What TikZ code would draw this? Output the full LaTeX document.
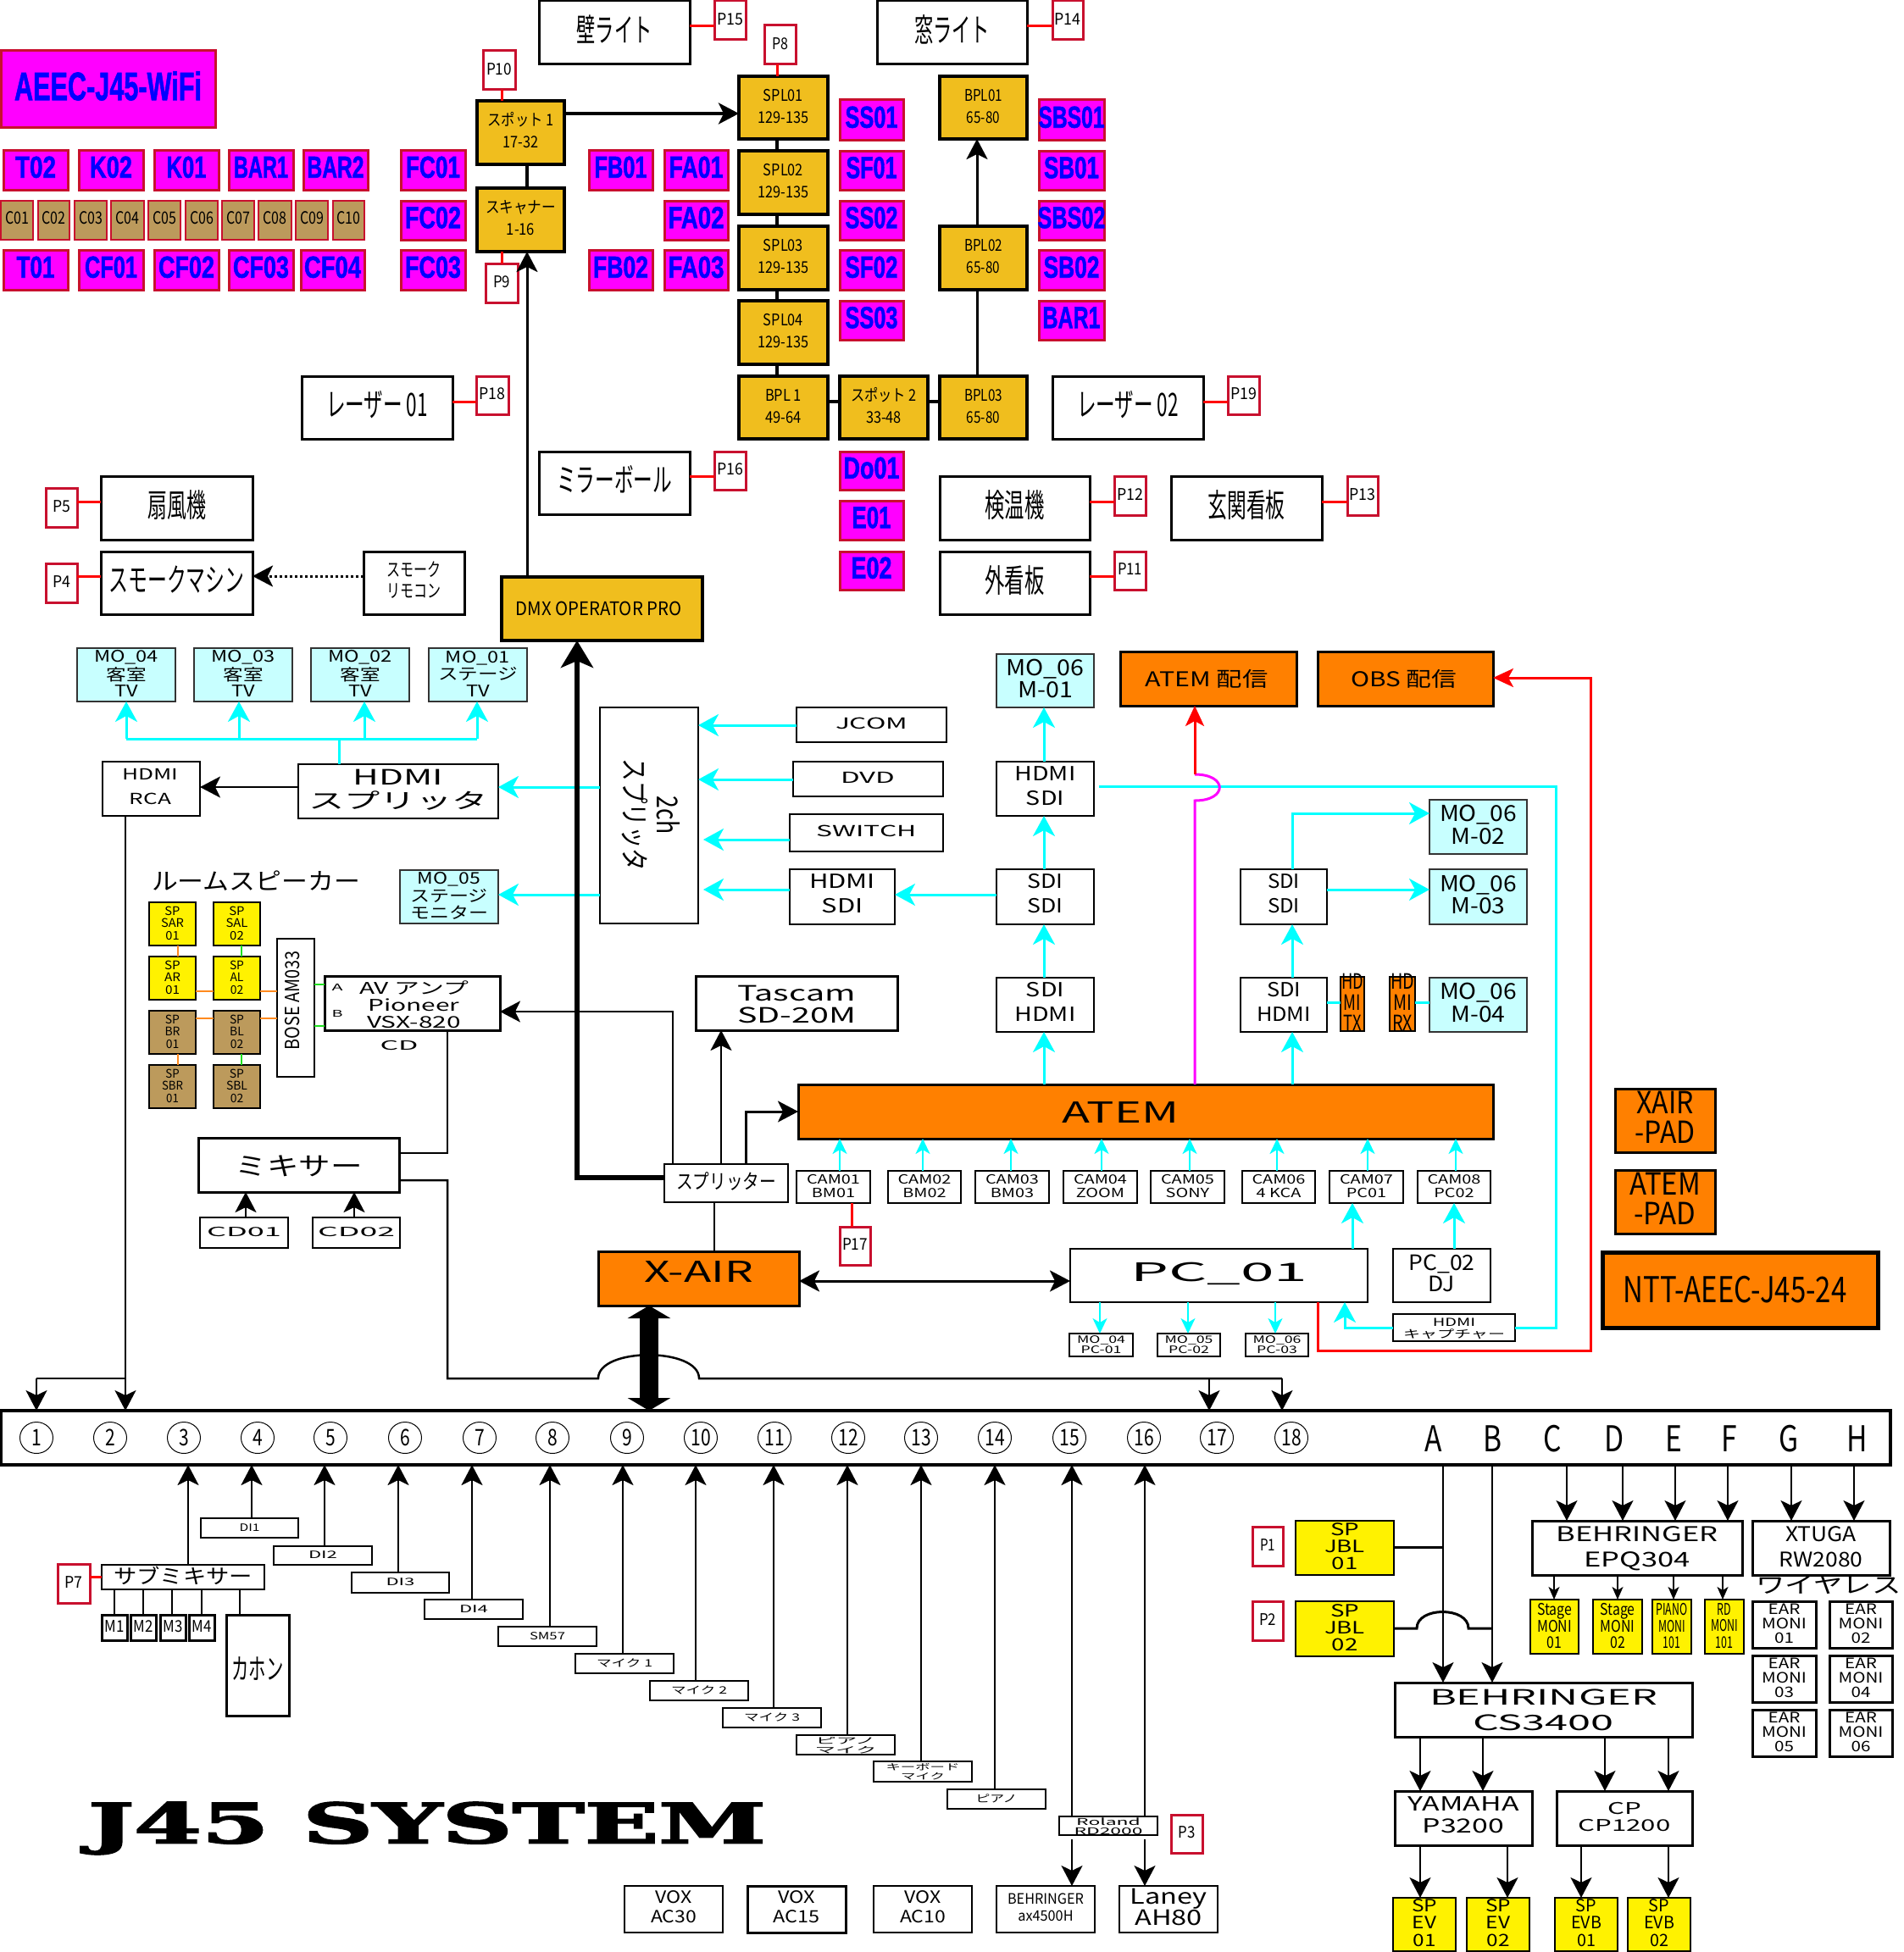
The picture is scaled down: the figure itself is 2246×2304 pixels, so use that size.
\documentclass[tikz,border=0pt]{standalone}
\usepackage{fontspec}
\usepackage{graphicx}
\usetikzlibrary{arrows.meta,shapes.geometric,calc}
\setmainfont{Noto Sans CJK JP}
\newfontfamily\labf[BoldFeatures={FakeBold=1.5}]{Liberation Sans}
\newfontfamily\stenc[FakeBold=2.5]{DejaVu Serif Bold}
\newsavebox\tb
\newcommand\T[4]{\sbox\tb{\fontsize{#2}{#3}\selectfont\begin{tabular}{@{}c@{}}#4\end{tabular}}%
\pgfmathsetmacro\tsc{#1/\the\wd\tb}\pgfmathsetmacro\tdn{.36*#2-.2*#3+2.5}%
\makebox[0pt]{\smash{\raisebox{-\tdn pt}{\scalebox{\tsc}[1]{\usebox\tb}}}}}
% shift text by dx, dy (dy down)
\newcommand\Sh[3]{\makebox[0pt][l]{\kern#1pt\smash{\raisebox{-#2pt}{#3}}}}
\newcommand\bx[7]{\node[base,#1,minimum width={#5-#3},minimum height={#6-#4}] (#2) at ({(#3+#5)/2},{(#4+#6)/2}) {#7};}
% magenta label: name x0 y0 x1 y1 width size text
\newcommand\Mg[7]{\bx{mag}{#1}{#2}{#3}{#4}{#5}{\T{#6}{36}{40}{\labf\bfseries #7}}}
\newcommand\Cc[5]{\bx{tan}{#1}{#2}{237}{#3}{283}{\T{28}{20}{24}{#4}}}
\newcommand\Pl[7]{\bx{pb}{#1}{#2}{#3}{#4}{#5}{\T{#6}{19}{22}{#7}}}
\newcommand\vc[4][]{\draw[#1] (#2,0 |- #3) -- (#2,0 |- #4);}
\newcommand\hc[4][]{\draw[#1] (#3 |- 0,#2) -- (#4 |- 0,#2);}
\tikzset{
 base/.style={rectangle,inner sep=0pt,outer sep=0pt,text=black},
 mag/.style={fill=magenta!100,draw=rd,line width=3,text=blue},
 tan/.style={fill=tanc,draw=rd,line width=2.5},
 pb/.style={fill=white,draw=rd,line width=3},
 gold/.style={fill=gold,draw=black,line width=3.5},
 wb/.style={fill=white,draw=black,line width=3},
 wm/.style={fill=white,draw=black,line width=2},
 wt/.style={fill=white,draw=black,line width=1.5},
 cy/.style={fill=lcy,draw=black!80,line width=1.5},
 ora/.style={fill=orc,draw=black,line width=3},
 oranb/.style={fill=orc,draw=black,line width=1.5},
 yl/.style={fill=yellow,draw=black,line width=2.5},
 tn/.style={fill=tanc,draw=black,line width=2.5},
 cn/.style={line width=2.5,draw=black},
 ck/.style={line width=3.5,draw=black},
 ar/.style={-{Stealth[length=24,width=25,inset=6]}},
 ars/.style={-{Stealth[length=15,width=13,inset=4]}},
 cya/.style={line width=3,draw=cyan!100,-{Stealth[length=24,width=26,inset=7]}},
 cyn/.style={line width=3,draw=cyan!100},
 cys/.style={line width=2,draw=cyan!100,-{Stealth[length=18,width=17,inset=5]}},
 plk/.style={line width=3,draw=red},
 olk/.style={line width=2.5,draw=orange},
 glk/.style={line width=2.5,draw=green},
}
\definecolor{rd}{HTML}{C8102E}
\definecolor{tanc}{HTML}{BC9A5C}
\definecolor{gold}{HTML}{F0BE1E}
\definecolor{lcy}{HTML}{C8FFFF}
\definecolor{orc}{HTML}{FF8000}
\definecolor{cyan}{HTML}{00FFFF}
\definecolor{magenta}{HTML}{FF00FF}
\definecolor{orange}{HTML}{FF8A1E}
\definecolor{green}{HTML}{20E020}
\begin{document}
\begin{tikzpicture}[x=1pt,y=-1pt]
\useasboundingbox (0,0) rectangle (2246,2304);
\fill[white] (0,0) rectangle (2246,2304);
% ---- magenta labels
\bx{mag}{wifi}{1}{60}{254}{150}{\T{221}{47}{52}{\labf\bfseries AEEC-J45-WiFi}}
\Mg{t02}{4}{177}{80}{224}{48}{T02}
\Mg{k02}{93}{177}{169}{224}{50}{K02}
\Mg{k01}{182}{177}{258}{224}{47}{K01}
\Mg{bara}{270}{177}{346}{224}{64}{BAR1}
\Mg{barb}{358}{177}{434}{224}{67}{BAR2}
\Mg{t01}{4}{295}{80}{342}{45}{T01}
\Mg{cf01}{93}{295}{169}{342}{62}{CF01}
\Mg{cf02}{182}{295}{258}{342}{66}{CF02}
\Mg{cf03}{270}{295}{346}{342}{66}{CF03}
\Mg{cf04}{355}{295}{430}{342}{67}{CF04}
\Mg{fc01}{473}{177}{549}{224}{64}{FC01}
\Mg{fc02}{473}{237}{549}{283}{66}{FC02}
\Mg{fc03}{473}{295}{549}{342}{66}{FC03}
\Mg{fb01}{695}{177}{770}{224}{62}{FB01}
\Mg{fa01}{784}{177}{859}{224}{64}{FA01}
\Mg{fa02}{784}{237}{859}{283}{66}{FA02}
\Mg{fb02}{695}{295}{770}{342}{65}{FB02}
\Mg{fa03}{784}{295}{859}{342}{66}{FA03}
\Mg{ss01}{991}{118}{1066}{165}{62}{SS01}
\Mg{sf01}{991}{178}{1066}{224}{60}{SF01}
\Mg{ss02}{991}{237}{1066}{283}{62}{SS02}
\Mg{sf02}{991}{295}{1066}{342}{62}{SF02}
\Mg{ss03}{991}{355}{1066}{401}{62}{SS03}
\Mg{sbs01}{1226}{118}{1303}{165}{78}{SBS01}
\Mg{sb01}{1226}{178}{1303}{224}{65}{SB01}
\Mg{sbs02}{1226}{237}{1303}{283}{80}{SBS02}
\Mg{sb02}{1226}{295}{1303}{342}{66}{SB02}
\Mg{barc}{1226}{355}{1303}{401}{68}{BAR1}
\Mg{do01}{991}{533}{1066}{578}{66}{Do01}
\Mg{e01}{991}{591}{1066}{637}{46}{E01}
\Mg{e02}{991}{651}{1066}{696}{48}{E02}
\Cc{c01}{1}{39}{C01}{}
\Cc{c02}{45}{82}{C02}{}
\Cc{c03}{88}{126}{C03}{}
\Cc{c04}{131}{170}{C04}{}
\Cc{c05}{175}{213}{C05}{}
\Cc{c06}{219}{257}{C06}{}
\Cc{c07}{262}{300}{C07}{}
\Cc{c08}{305}{344}{C08}{}
\Cc{c09}{349}{387}{C09}{}
\Cc{c10}{393}{430}{C10}{}
% ---- gold boxes
\bx{gold}{spot1}{563}{119}{666}{194}{\T{78}{19}{26}{スポット 1\\17-32}}
\bx{gold}{scan}{563}{222}{666}{297}{\T{83}{19}{26}{スキャナー\\1-16}}
\bx{gold}{spla}{872}{90}{977}{164}{\T{60}{19}{26}{SPL01\\129-135}}
\bx{gold}{splb}{872}{178}{977}{253}{\T{60}{19}{26}{SPL02\\129-135}}
\bx{gold}{splc}{872}{267}{977}{342}{\T{60}{19}{26}{SPL03\\129-135}}
\bx{gold}{spld}{872}{355}{977}{430}{\T{60}{19}{26}{SPL04\\129-135}}
\bx{gold}{bpl1}{872}{444}{977}{518}{\T{43}{19}{26}{BPL 1\\49-64}}
\bx{gold}{spot2}{991}{444}{1095}{518}{\T{78}{19}{26}{スポット 2\\33-48}}
\bx{gold}{bpla}{1109}{90}{1212}{164}{\T{45}{19}{26}{BPL01\\65-80}}
\bx{gold}{bplb}{1109}{267}{1212}{342}{\T{45}{19}{26}{BPL02\\65-80}}
\bx{gold}{bplc}{1109}{444}{1212}{518}{\T{45}{19}{26}{BPL03\\65-80}}
\bx{gold}{dmx}{592}{681}{829}{756}{\Sh{-4}{3}{\T{196}{22}{26}{DMX OPERATOR PRO}}}
% ---- white device boxes
\bx{wb}{wall}{636}{1}{814}{76}{\T{89}{38}{42}{壁ライト}}
\bx{wb}{win}{1035}{1}{1212}{76}{\T{89}{38}{42}{窓ライト}}
\bx{wb}{las1}{356}{444}{534}{518}{\T{120}{38}{42}{レーザー 01}}
\bx{wb}{las2}{1242}{444}{1420}{518}{\T{120}{38}{42}{レーザー 02}}
\bx{wb}{mirror}{636}{533}{814}{607}{\T{136}{38}{42}{ミラーボール}}
\bx{wb}{fan}{119}{562}{298}{637}{\T{69}{38}{42}{扇風機}}
\bx{wb}{smoke}{119}{651}{298}{725}{\T{160}{38}{42}{スモークマシン}}
\bx{wb}{remote}{429}{651}{548}{725}{\T{64}{22}{25}{スモーク\\リモコン}}
\bx{wb}{temp}{1109}{562}{1286}{637}{\T{70}{38}{42}{検温機}}
\bx{wb}{sign}{1382}{562}{1560}{637}{\T{91}{38}{42}{玄関看板}}
\bx{wb}{outs}{1109}{651}{1286}{725}{\T{70}{38}{42}{外看板}}
% ---- P tags
\Pl{p10}{570}{60}{608}{106}{30}{P10}
\Pl{p9}{573}{311}{611}{357}{20}{P9}
\Pl{p15}{843}{1}{880}{47}{31}{P15}
\Pl{p8}{902}{30}{939}{76}{19}{P8}
\Pl{p14}{1242}{1}{1278}{47}{31}{P14}
\Pl{p18}{562}{444}{600}{489}{31}{P18}
\Pl{p19}{1449}{444}{1486}{489}{31}{P19}
\Pl{p16}{843}{533}{880}{578}{31}{P16}
\Pl{p5}{54}{576}{91}{622}{21}{P5}
\Pl{p4}{54}{665}{91}{711}{21}{P4}
\Pl{p12}{1315}{562}{1352}{608}{31}{P12}
\Pl{p13}{1590}{562}{1626}{608}{31}{P13}
\Pl{p11}{1315}{651}{1352}{696}{29}{P11}
\Pl{p7}{68}{1846}{106}{1892}{21}{P7}
\Pl{p17}{991}{1448}{1027}{1493}{30}{P17}
\Pl{p1}{1478}{1802}{1514}{1848}{18}{P1}
\Pl{p2}{1478}{1890}{1514}{1936}{20}{P2}
\Pl{p3}{1382}{2142}{1419}{2187}{20}{P3}
% ---- monitors
\bx{cy}{mo4}{91}{765}{207}{828}{\T{76}{19}{18}{MO\_04\\客室\\TV}}
\bx{cy}{mo3}{229}{765}{345}{828}{\T{76}{19}{18}{MO\_03\\客室\\TV}}
\bx{cy}{mo2}{367}{765}{483}{828}{\T{76}{19}{18}{MO\_02\\客室\\TV}}
\bx{cy}{mo1}{506}{765}{622}{828}{\T{94}{19}{18}{MO\_01\\ステージ\\TV}}
\bx{cy}{mo5}{472}{1027}{588}{1090}{\T{92}{19}{18}{MO\_05\\ステージ\\モニター}}
\bx{cy}{m1}{1176}{772}{1291}{835}{\T{92}{26}{24}{MO\_06\\M-01}}
\bx{cy}{m2}{1687}{944}{1802}{1008}{\T{91}{26}{24}{MO\_06\\M-02}}
\bx{cy}{m3}{1687}{1026}{1802}{1091}{\T{91}{26}{24}{MO\_06\\M-03}}
\bx{cy}{m4}{1687}{1154}{1802}{1218}{\T{91}{26}{24}{MO\_06\\M-04}}
% ---- video chain
\bx{wm}{rca}{121}{899}{236}{963}{\Sh{-1}{-1}{\T{66}{18}{29}{HDMI\\RCA}}}
\bx{wm}{hsp}{352}{902}{588}{966}{\T{211}{25}{23}{HDMI\\スプリッタ}}
\bx{wm}{twoch}{708}{835}{824}{1090}{}
\node[rotate=-90] (twochl) at (766,962) {\T{133}{34}{35}{2ch\\スプリッタ}};
\bx{wm}{jcom}{940}{835}{1117}{876}{\T{85}{18}{22}{JCOM}}
\bx{wm}{dvd}{936}{899}{1113}{940}{\T{64}{18}{22}{DVD}}
\bx{wm}{swi}{932}{961}{1113}{1005}{\T{118}{18}{22}{SWITCH}}
\bx{wm}{hs1}{932}{1026}{1056}{1091}{\T{78}{23}{29}{HDMI\\SDI}}
\bx{wm}{ss}{1176}{1026}{1291}{1091}{\T{42}{23}{29}{SDI\\SDI}}
\bx{wm}{hs2}{1176}{899}{1291}{963}{\T{72}{23}{29}{HDMI\\SDI}}
\bx{wm}{sh}{1176}{1154}{1291}{1218}{\T{72}{23}{29}{SDI\\HDMI}}
\bx{wm}{ssr}{1464}{1026}{1566}{1091}{\T{38}{23}{29}{SDI\\SDI}}
\bx{wm}{shr}{1464}{1154}{1566}{1218}{\T{64}{23}{29}{SDI\\HDMI}}
\bx{oranb}{hdtx}{1582}{1153}{1610}{1217}{\T{26}{25}{21}{HD\\MI\\TX}}
\bx{oranb}{hdrx}{1640}{1153}{1670}{1217}{\T{28}{25}{21}{HD\\MI\\RX}}
\bx{ora}{atemh}{1322}{769}{1530}{833}{\Sh{-2}{4}{\T{145}{24}{28}{ATEM 配信}}}
\bx{ora}{obs}{1555}{769}{1762}{833}{\Sh{-2}{4}{\T{125}{24}{28}{OBS 配信}}}
\bx{ora}{atem}{942}{1280}{1762}{1344}{\Sh{-30}{5}{\T{138}{34}{38}{ATEM}}}
\bx{ora}{xair}{706}{1477}{943}{1541}{\Sh{0}{-4}{\T{129}{34}{38}{X-AIR}}}
\bx{ora}{xpad}{1906}{1285}{2024}{1360}{\Sh{0}{-3}{\T{71}{36}{28}{XAIR\\-PAD}}}
\bx{ora}{apad}{1906}{1381}{2024}{1456}{\Sh{0}{-3}{\T{84}{36}{28}{ATEM\\-PAD}}}
\bx{ora,line width=5}{ntt}{1891}{1478}{2216}{1567}{\Sh{-6}{4}{\T{264}{42}{46}{NTT-AEEC-J45-24}}}
\bx{wb}{tasc}{821}{1152}{1059}{1216}{\Sh{0}{5}{\T{140}{25}{25}{Tascam\\SD-20M}}}
\bx{wm}{spl}{784}{1374}{930}{1419}{\Sh{0}{2}{\T{118}{24}{28}{スプリッター}}}
\bx{wb}{mix}{234}{1343}{471}{1407}{\Sh{0}{5}{\T{150}{30}{34}{ミキサー}}}
\bx{wt}{cda}{236}{1437}{340}{1473}{\T{88}{15}{18}{CD01}}
\bx{wt}{cdb}{369}{1437}{472}{1473}{\T{91}{15}{18}{CD02}}
\bx{wm}{pc1}{1263}{1474}{1614}{1537}{\T{209}{30}{34}{PC\_01}}
\bx{wt}{pc2}{1644}{1474}{1759}{1537}{\T{78}{25}{22}{PC\_02\\DJ}}
\bx{wm}{cap}{1644}{1551}{1788}{1583}{\T{120}{13}{11}{HDMI\\キャプチャー}}
\bx{wm}{ma}{1262}{1574}{1337}{1601}{\T{57}{12}{11.5}{MO\_04\\PC-01}}
\bx{wm}{mb}{1366}{1574}{1440}{1601}{\T{57}{12}{11.5}{MO\_05\\PC-02}}
\bx{wm}{mc}{1470}{1574}{1544}{1601}{\T{57}{12}{11.5}{MO\_06\\PC-03}}
\bx{wm}{cam1}{940}{1382}{1027}{1420}{\T{63}{15}{16}{CAM01\\BM01}}
\bx{wm}{cam2}{1048}{1382}{1134}{1420}{\T{63}{15}{16}{CAM02\\BM02}}
\bx{wm}{cam3}{1151}{1382}{1238}{1420}{\T{63}{15}{16}{CAM03\\BM03}}
\bx{wm}{cam4}{1255}{1382}{1342}{1420}{\T{63}{15}{16}{CAM04\\ZOOM}}
\bx{wm}{cam5}{1358}{1382}{1445}{1420}{\T{63}{15}{16}{CAM05\\SONY}}
\bx{wm}{cam6}{1466}{1382}{1552}{1420}{\T{63}{15}{16}{CAM06\\4 KCA}}
\bx{wm}{cam7}{1569}{1382}{1656}{1420}{\T{63}{15}{16}{CAM07\\PC01}}
\bx{wm}{cam8}{1673}{1382}{1759}{1420}{\T{63}{15}{16}{CAM08\\PC02}}
% ---- room speakers
\node[base] (roomt) at (302,1044) {\T{246}{28}{32}{ルームスピーカー}};
\bx{yl}{sar}{176}{1065}{231}{1116}{\T{27}{14}{14}{SP\\SAR\\01}}
\bx{yl}{sal}{252}{1065}{307}{1116}{\T{26}{14}{14}{SP\\SAL\\02}}
\bx{yl}{ar}{176}{1129}{231}{1180}{\T{19}{14}{14}{SP\\AR\\01}}
\bx{yl}{al}{252}{1129}{307}{1180}{\T{17}{14}{14}{SP\\AL\\02}}
\bx{tn}{br}{176}{1193}{231}{1244}{\T{18}{14}{14}{SP\\BR\\01}}
\bx{tn}{bl}{252}{1193}{307}{1244}{\T{17}{14}{14}{SP\\BL\\02}}
\bx{tn}{sbr}{176}{1257}{231}{1308}{\T{25}{14}{14}{SP\\SBR\\01}}
\bx{tn}{sbl}{252}{1257}{307}{1308}{\T{25}{14}{14}{SP\\SBL\\02}}
\bx{wm}{bose}{327}{1108}{371}{1271}{}
\node[rotate=90] (bosel) at (349,1181) {\T{117}{23}{26}{BOSE AM033}};
\bx{wb}{av}{383}{1152}{590}{1216}{\Sh{2}{3}{\T{129}{19}{19}{AV アンプ\\Pioneer\\VSX-820}}}
\node[base] (ampa) at (398,1166) {\T{13}{11}{13}{A}};
\node[base] (ampb) at (398,1197) {\T{13}{11}{13}{B}};
\node[base] (cdl) at (471,1235) {\T{45}{15}{18}{CD}};
% ---- patch bay
\bx{ck,fill=white,line width=4.5}{bus}{1}{1665}{2231}{1729}{}
\foreach \n/\x in {1/43,2/130,3/217,4/304,5/390,6/478,7/566,8/652,9/740,10/827,11/914,12/1001,13/1087,14/1174,15/1262,16/1350,17/1436,18/1524}{
 \node[ellipse,draw=black,line width=1,minimum width=39,minimum height=37,inner sep=0pt] (ch\n) at (\x,1697) {\raisebox{-1pt}{\scalebox{.78}[1]{\fontsize{27}{30}\selectfont\n}}};
}
\foreach \n/\x in {A/1692,B/1762,C/1832,D/1905,E/1975,F/2041,G/2111,H/2192}{
 \node[base] (ch\n) at (\x,1698) {\scalebox{.8}[1]{\fontsize{42}{46}\selectfont\n}};
}
% ---- inputs
\bx{wm}{di1}{237}{1792}{352}{1815}{\T{24}{12}{14}{DI1}}
\bx{wm}{di2}{323}{1825}{439}{1847}{\T{34}{12}{14}{DI2}}
\bx{wm}{di3}{415}{1856}{530}{1880}{\T{34}{12}{14}{DI3}}
\bx{wm}{di4}{501}{1888}{617}{1911}{\T{34}{12}{14}{DI4}}
\bx{wm}{sm}{588}{1920}{704}{1943}{\T{42}{12}{14}{SM57}}
\bx{wm}{mica}{679}{1952}{795}{1975}{\T{66}{12}{14}{マイク 1}}
\bx{wm}{micb}{767}{1984}{883}{2007}{\T{66}{12}{14}{マイク 2}}
\bx{wm}{micc}{853}{2016}{969}{2039}{\T{66}{12}{14}{マイク 3}}
\bx{wm}{pmic}{940}{2048}{1056}{2071}{\T{73}{10}{9.5}{ピアノ\\マイク}}
\bx{wm}{kmic}{1031}{2079}{1147}{2103}{\T{87}{10}{9.5}{キーボード\\マイク}}
\bx{wm}{pia}{1118}{2112}{1234}{2135}{\T{49}{12}{14}{ピアノ}}
\bx{wm}{rol}{1250}{2144}{1366}{2166}{\T{81}{11}{9.5}{Roland\\RD2000}}
\bx{wm}{sub}{120}{1847}{312}{1876}{\Sh{0}{3}{\T{164}{24}{28}{サブミキサー}}}
\bx{wb}{ma1}{120}{1906}{150}{1936}{\T{23}{19}{22}{M1}}
\bx{wb}{ma2}{154}{1906}{184}{1936}{\T{23}{19}{22}{M2}}
\bx{wb}{ma3}{189}{1906}{219}{1936}{\T{23}{19}{22}{M3}}
\bx{wb}{ma4}{223}{1906}{253}{1936}{\T{23}{19}{22}{M4}}
\bx{wb}{caj}{267}{1906}{341}{2025}{\Sh{0}{8}{\T{61}{34}{38}{カホン}}}
\bx{wm}{ac30}{737}{2226}{853}{2281}{\T{54}{20}{23}{VOX\\AC30}}
\bx{wb}{ac15}{882}{2226}{998}{2281}{\T{55}{20}{23}{VOX\\AC15}}
\bx{wm}{ac10}{1031}{2226}{1147}{2281}{\T{54}{20}{23}{VOX\\AC10}}
\bx{wm}{ax}{1176}{2226}{1292}{2281}{\T{90}{17}{20}{BEHRINGER\\ax4500H}}
\bx{wm}{lan}{1321}{2226}{1437}{2281}{\T{91}{25}{22}{Laney\\AH80}}
\node[base] (title) at (504,2158) {\resizebox*{800pt}{62pt}{\fontsize{75}{80}\stenc J45 SYSTEM}};
% ---- outputs
\bx{yl}{jbla}{1529}{1795}{1645}{1859}{\T{48}{20}{18}{SP\\JBL\\01}}
\bx{yl}{jblb}{1529}{1890}{1645}{1955}{\T{48}{20}{18}{SP\\JBL\\02}}
\bx{wb}{epq}{1808}{1795}{2056}{1859}{\Sh{0}{3}{\T{191}{24}{30}{BEHRINGER\\EPQ304}}}
\bx{wb}{xtu}{2068}{1795}{2230}{1859}{\Sh{0}{3}{\T{99}{24}{30}{XTUGA\\RW2080}}}
\bx{yl,line width=1.5}{sta}{1806}{1888}{1863}{1952}{\T{41}{19}{18}{Stage\\MONI\\01}}
\bx{yl,line width=1.5}{stb}{1880}{1888}{1938}{1952}{\T{41}{19}{18}{Stage\\MONI\\02}}
\bx{yl,line width=1.5}{pmo}{1950}{1888}{1996}{1952}{\T{37}{19}{18}{PIANO\\MONI\\101}}
\bx{yl,line width=1.5}{rdm}{2012}{1888}{2058}{1952}{\T{32}{19}{18}{RD\\MONI\\101}}
\node[base] (wire) at (2158,1875) {\T{171}{26}{30}{ワイヤレス}};
\bx{wb}{eaa}{2068}{1890}{2143}{1945}{\T{53}{17}{15.5}{EAR\\MONI\\01}}
\bx{wb}{eab}{2159}{1890}{2233}{1945}{\T{53}{17}{15.5}{EAR\\MONI\\02}}
\bx{wb}{eac}{2068}{1954}{2143}{2009}{\T{53}{17}{15.5}{EAR\\MONI\\03}}
\bx{wb}{ead}{2159}{1954}{2233}{2009}{\T{53}{17}{15.5}{EAR\\MONI\\04}}
\bx{wb}{eae}{2068}{2018}{2143}{2073}{\T{53}{17}{15.5}{EAR\\MONI\\05}}
\bx{wb}{eaf}{2159}{2018}{2233}{2073}{\T{53}{17}{15.5}{EAR\\MONI\\06}}
\bx{wb}{cs}{1646}{1986}{1997}{2050}{\Sh{0}{4}{\T{269}{25}{30}{BEHRINGER\\CS3400}}}
\bx{wb}{yam}{1646}{2114}{1808}{2178}{\T{131}{23}{26}{YAMAHA\\P3200}}
\bx{wb}{cp}{1837}{2114}{1997}{2178}{\T{109}{19}{20}{CP\\CP1200}}
\bx{yl}{eva}{1644}{2240}{1718}{2303}{\T{30}{20}{19}{SP\\EV\\01}}
\bx{yl}{evb}{1731}{2240}{1805}{2303}{\T{30}{20}{19}{SP\\EV\\02}}
\bx{yl}{evc}{1835}{2240}{1909}{2303}{\T{36}{20}{19}{SP\\EVB\\01}}
\bx{yl}{evd}{1921}{2240}{1995}{2303}{\T{36}{20}{19}{SP\\EVB\\02}}
% ==== connectors: P tags
\vc[plk]{592}{p10.south}{spot1.north}
\vc[plk]{592}{scan.south}{p9.north}
\hc[plk]{31}{wall.east}{p15.west}
\vc[plk]{917}{p8.south}{spla.north}
\hc[plk]{31}{win.east}{p14.west}
\hc[plk]{474}{las1.east}{p18.west}
\hc[plk]{474}{las2.east}{p19.west}
\hc[plk]{562}{mirror.east}{p16.west}
\hc[plk]{592}{p5.east}{fan.west}
\hc[plk]{680}{p4.east}{smoke.west}
\hc[plk]{592}{temp.east}{p12.west}
\hc[plk]{592}{sign.east}{p13.west}
\hc[plk]{680}{outs.east}{p11.west}
\hc[plk]{1861}{p7.east}{sub.west}
\vc[plk]{1005}{cam1.south}{p17.north}
% ==== lighting
\hc[ck,ar]{134}{spot1.east}{spla.west}
\vc[ck]{622}{spot1.south}{scan.north}
\vc[cn,line width=3,ar]{622}{dmx.north}{scan.south}
\vc[ck]{917}{spla.south}{splb.north}
\vc[ck]{917}{splb.south}{splc.north}
\vc[ck]{917}{splc.south}{spld.north}
\vc[ck]{917}{spld.south}{bpl1.north}
\hc[ck,line width=4.5]{474}{bpl1.east}{spot2.west}
\hc[ck,line width=4.5]{474}{spot2.east}{bplc.west}
\vc[cn,line width=3]{1153}{bplc.north}{bplb.south}
\vc[cn,line width=3,ar]{1153}{bplb.north}{bpla.south}
\hc[cn,line width=3,dotted,line cap=butt,dash pattern=on 3pt off 3pt,ar]{680}{remote.west}{smoke.east}
% ==== monitors left
\draw[cyn] (149,872) coordinate (busl) -- (563,872) coordinate (busr);
\vc[cyn]{400}{hsp.north}{busl}
\vc[cya]{149}{busl}{mo4.south}
\vc[cya]{282}{busl}{mo3.south}
\vc[cya]{430}{busl}{mo2.south}
\vc[cya]{563}{busl}{mo1.south}
\hc[cn,ar]{929}{hsp.west}{rca.east}
\hc[cya]{929}{twoch.west}{hsp.east}
\hc[cya]{1056}{twoch.west}{mo5.east}
\hc[cya]{856}{jcom.west}{twoch.east}
\hc[cya]{920}{dvd.west}{twoch.east}
\draw[cya] (swi.west |- 0,991) -- (830,991);
\draw[cya] (hs1.west |- 0,1050) -- (830,1050);
\hc[cya]{1056}{ss.west}{hs1.east}
\vc[cya]{1232}{atem.north}{sh.south}
\vc[cya]{1232}{sh.north}{ss.south}
\vc[cya]{1232}{ss.north}{hs2.south}
\vc[cya]{1232}{hs2.north}{m1.south}
\vc[cya]{1525}{atem.north}{shr.south}
\vc[cya]{1525}{shr.north}{ssr.south}
\draw[cya] (1525,0 |- ssr.north) -- (1525,960) -- (m2.west |- 0,960);
\hc[cya]{1050}{ssr.east}{m3.west}
\hc[cyn]{1183}{shr.east}{hdtx.west}
\hc[cyn]{1183}{hdrx.east}{m4.west}
% long cyan and capture
\draw[cyn] (1297,928) -- (1836,928) -- (1836,1567) -- (cap.east |- 0,1567);
\draw[cya] (cap.west |- 0,1567) -- (1587,1567) -- (1587,0 |- pc1.south);
% ATEM stream, magenta jump
\draw[line width=3,draw=magenta] (1410,0 |- atem.north) -- (1410,945) .. controls (1449,945) and (1449,914) .. (1410,914);
\draw[line width=3,draw=red,-{Stealth[length=24,width=22,inset=6]}] (1410,914) -- (1410,0 |- atemh.south);
\draw[line width=3,draw=red,-{Stealth[length=24,width=22,inset=6]}] (1555,0 |- pc1.south) -- (1555,1594) -- (1877,1594) -- (1877,800) -- (obs.east |- 0,800);
% cams
\vc[cys]{991}{cam1.north}{atem.south}
\vc[cys]{1089}{cam2.north}{atem.south}
\vc[cys]{1193}{cam3.north}{atem.south}
\vc[cys]{1300}{cam4.north}{atem.south}
\vc[cys]{1404}{cam5.north}{atem.south}
\vc[cys]{1507}{cam6.north}{atem.south}
\vc[cys]{1614}{cam7.north}{atem.south}
\vc[cys]{1718}{cam8.north}{atem.south}
\vc[cya]{1596}{pc1.north}{cam7.south}
\vc[cya]{1716}{pc2.north}{cam8.south}
\vc[cys]{1298}{pc1.south}{ma.north}
\vc[cys]{1402}{pc1.south}{mb.north}
\vc[cys]{1505}{pc1.south}{mc.north}
% ==== audio
\draw[cn,line width=3,{Stealth[length=24,width=25,inset=6]}-{Stealth[length=24,width=25,inset=6]}] (xair.east |- 0,1512) -- (pc1.west |- 0,1512);
\draw[line width=6,-{Stealth[length=32,width=38,inset=8]}] (spl.west |- 0,1390) -- (681,1390) -- (681,0 |- dmx.south);
\draw[cn,ar] (794,0 |- spl.north) -- (794,1194) -- (av.east |- 0,1194);
\vc[cn,ar]{851}{spl.north}{tasc.south}
\draw[cn,line width=3,ar] (880,0 |- spl.north) -- (880,1312) -- (atem.west |- 0,1312);
\vc[cn]{843}{spl.south}{xair.north}
\vc[cn,ar]{290}{cda.north}{mix.south}
\vc[cn,ar]{418}{cdb.north}{mix.south}
\draw[cn] (528,0 |- av.south) -- (528,1361) -- (mix.east |- 0,1361);
\draw[cn] (mix.east |- 0,1393) -- (528,1393) -- (528,1627) -- (706,1627) .. controls (706,1590) and (825,1590) .. (825,1627) -- (1513,1627) coordinate (wend);
\vc[cn,ar]{1427}{wend}{bus.north}
\vc[cn,ar]{1513}{wend}{bus.north}
\vc[cn,ar]{148}{rca.south}{bus.north}
\draw[cn] (43,1627) coordinate (wl) -- (148,1627);
\vc[cn,ar]{43}{wl}{bus.north}
\draw[line width=22,{Triangle[length=15,width=50]}-{Triangle[length=15,width=50]}] (766,0 |- xair.south) -- (766,0 |- bus.north);
\hc[olk]{1170}{ar.east}{al.west}
\hc[olk]{1170}{al.east}{bose.west}
\hc[olk]{1202}{br.east}{bl.west}
\hc[olk]{1202}{bl.east}{bose.west}
\vc[olk]{210}{sar.south}{ar.north}
\vc[olk]{210}{br.south}{sbr.north}
\vc[glk]{285}{sal.south}{al.north}
\vc[glk]{285}{bl.south}{sbl.north}
\hc[glk]{1162}{bose.east}{av.west}
\hc[glk]{1211}{bose.east}{av.west}
% inputs to bus
\vc[cn,ar]{222}{sub.north}{bus.south}
\vc[cn,ar]{297}{di1.north}{bus.south}
\vc[cn,ar]{383}{di2.north}{bus.south}
\vc[cn,ar]{470}{di3.north}{bus.south}
\vc[cn,ar]{557}{di4.north}{bus.south}
\vc[cn,ar]{649}{sm.north}{bus.south}
\vc[cn,ar]{735}{mica.north}{bus.south}
\vc[cn,ar]{821}{micb.north}{bus.south}
\vc[cn,ar]{913}{micc.north}{bus.south}
\vc[cn,ar]{1000}{pmic.north}{bus.south}
\vc[cn,ar]{1087}{kmic.north}{bus.south}
\vc[cn,ar]{1174}{pia.north}{bus.south}
\vc[cn,ar]{1265}{rol.north}{bus.south}
\vc[cn,ar]{1351}{rol.north}{bus.south}
\vc[cn,ar,shorten <=5]{1265}{rol.south}{ax.north}
\vc[cn,ar,shorten <=5]{1351}{rol.south}{lan.north}
\vc[cn]{135}{sub.south}{ma1.north}
\vc[cn]{169}{sub.south}{ma2.north}
\vc[cn]{203}{sub.south}{ma3.north}
\vc[cn]{238}{sub.south}{ma4.north}
\vc[cn]{283}{sub.south}{caj.north}
% outputs
\vc[cn,ar]{1703}{bus.south}{cs.north}
\vc[cn,ar]{1761}{bus.south}{cs.north}
\draw[cn,line width=3] (jbla.east |- 0,1826) -- (1703,1826);
\draw[cn,line width=3] (jblb.east |- 0,1922) -- (1672,1922) .. controls (1672,1896) and (1733,1896) .. (1733,1922) -- (1761,1922);
\vc[cn,ar]{1849}{bus.south}{epq.north}
\vc[cn,ar]{1915}{bus.south}{epq.north}
\vc[cn,ar]{1977}{bus.south}{epq.north}
\vc[cn,ar]{2039}{bus.south}{epq.north}
\vc[cn,ar]{2114}{bus.south}{xtu.north}
\vc[cn,ar]{2188}{bus.south}{xtu.north}
\vc[cn,line width=1.5,ars]{1834}{epq.south}{sta.north}
\vc[cn,line width=1.5,ars]{1909}{epq.south}{stb.north}
\vc[cn,line width=1.5,ars]{1975}{epq.south}{pmo.north}
\vc[cn,line width=1.5,ars]{2033}{epq.south}{rdm.north}
\vc[cn,ar]{1676}{cs.south}{yam.north}
\vc[cn,ar]{1750}{cs.south}{yam.north}
\vc[cn,ar]{1894}{cs.south}{cp.north}
\vc[cn,ar]{1969}{cs.south}{cp.north}
\vc[cn,ar]{1676}{yam.south}{eva.north}
\vc[cn,ar]{1779}{yam.south}{evb.north}
\vc[cn,ar]{1866}{cp.south}{evc.north}
\vc[cn,ar]{1969}{cp.south}{evd.north}
\end{tikzpicture}
\end{document}
